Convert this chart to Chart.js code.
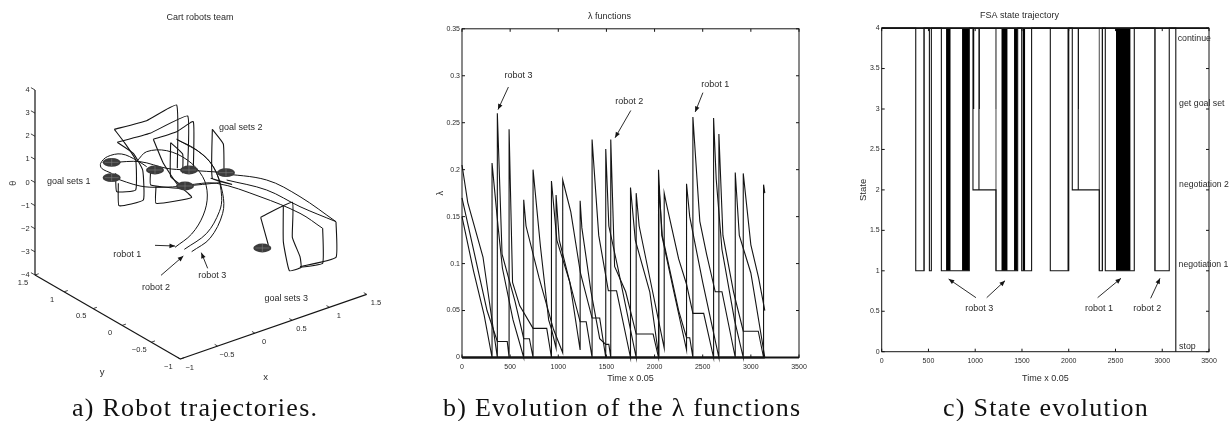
<!DOCTYPE html>
<html>
<head>
<meta charset="utf-8">
<title>Cart robots team</title>
<script src="https://cdn.jsdelivr.net/npm/chart.js@4"></script>
<style>
body { margin: 0; background: #fff; width: 1231px; height: 421px; overflow: hidden; position: relative; }
canvas { position: absolute; top: 0; }
.caption { position: absolute; top: 393px; font: 26px "Liberation Serif", serif; letter-spacing: 1.25px; color: #111; white-space: nowrap; line-height: 29px; }
</style>
</head>
<body>
<canvas id="robotChart" style="left:0" width="410" height="395"></canvas>
<canvas id="lambdaChart" style="left:420px" width="400" height="395"></canvas>
<canvas id="stateChart" style="left:830px" width="401" height="395"></canvas>
<div class="caption" style="left:72px">a) Robot trajectories.</div>
<div class="caption" style="left:443px">b) Evolution of the λ functions</div>
<div class="caption" style="left:943px">c) State evolution</div>
<script>
// ---- panel a: axis ticks (real units) ----
const xTicks3d = [-1, -0.5, 0, 0.5, 1, 1.5];
const yTicks3d = [-1, -0.5, 0, 0.5, 1, 1.5];
const thetaTicks3d = [-4, -3, -2, -1, 0, 1, 2, 3, 4];

// ---- panel a: paths, in projected plot units ----
const robot1Path = [[525,742],[575,702],[610,645],[622,585],[608,530],[562,480],[500,452],[440,455],[412,482]];
const robot2Path = [[553,748],[620,700],[658,635],[665,590],[650,520],[610,465],[530,418]];
const robot3Path = [[575,755],[630,715],[668,640],[668,580],[640,500],[590,450],[530,418]];
const arcPath1 = [[660,520],[800,540],[900,590],[1008,665]];
const arcPath2 = [[680,540],[800,570],[900,620],[1008,665]];
const arcPath3 = [[560,555],[650,550],[780,590],[900,640],[968,685]];
const linkPath1 = [[340,487],[420,485],[500,505],[560,510],[680,518]];
const linkPath2 = [[340,533],[420,558],[480,562],[555,558],[660,548]];
const loopPath = [[335,520],[305,505],[302,490],[322,470],[365,462],[412,482],[440,500]];
const goalWires = [
  [[343,388],[440,362],[530,315],[532,505]],
  [[343,388],[375,430],[407,480],[407,570],[350,575],[347,520]],
  [[352,427],[450,400],[563,348],[563,505]],
  [[352,427],[400,460],[428,510],[430,600],[357,617],[355,550]],
  [[460,418],[530,395],[580,365],[580,510]],
  [[460,418],[490,490],[530,550],[575,592],[468,610],[468,560]],
  [[512,428],[548,462],[548,520]],
  [[512,428],[512,530],[555,565],[452,555],[452,510]],
  [[637,388],[670,432],[672,520]],
  [[637,388],[637,535],[695,553],[632,535]],
  [[782,652],[877,607],[877,712],[900,770],[903,802],[868,812],[850,725],[850,615]],
  [[782,652],[805,735]],
  [[903,802],[968,790],[968,685]],
  [[1008,665],[1008,772],[900,800]]
];
const diskCentersX = [335, 335, 465, 567, 555, 678, 787];
const diskCentersY = [487, 533, 510, 510, 558, 518, 744];

// ---- panel b: lambda for each robot ----
const lambdaTicks = [0, 0.05, 0.1, 0.15, 0.2, 0.25, 0.3, 0.35];
const timeTicks = [0, 500, 1000, 1500, 2000, 2500, 3000, 3500];
const robotATimes = [0,120,230,312, 312,374,420,530,641, 641,665,800,950,1046, 1046,1130,1230,1351,1430,1493, 1493,1525,1620,1809, 1809,1840,1980,2100, 2100,2120,2250,2332,2398,2510,2613, 2613,2640,2700,2830,2921, 2921,3000,3080,3145];
const robotAValues = [0.15,0.092,0.045,0, 0.207,0.14,0.095,0.04,0, 0.168,0.14,0.085,0.03,0.005, 0.189,0.155,0.09,0.042,0.042,0, 0.222,0.14,0.095,0, 0.175,0.14,0.07,0.01, 0.175,0.165,0.105,0.078,0.047,0.047,0, 0.255,0.19,0.115,0.04,0, 0.196,0.12,0.085,0.05];
const robotBTimes = [0,60,218,367, 367,416,550,641,700,738, 738,815,900,930,977, 977,1010,1120,1227, 1227,1245,1340,1430,1493,1525,1545, 1545,1585,1700,1809,1985,2041, 2041,2075,2200,2332, 2332,2365,2500,2668, 2668,2710,2820,2921,3077,3132, 3132,3145];
const robotBValues = [0.205,0.165,0.107,0, 0.26,0.11,0.06,0.02,0.02,0, 0.2,0.118,0.04,0.03,0.01, 0.173,0.125,0.08,0.008, 0.167,0.138,0.07,0.02,0.014,0.014,0, 0.232,0.097,0.07,0.025,0.025,0, 0.2,0.13,0.07,0.008, 0.185,0.15,0.08,0, 0.238,0.13,0.07,0.028,0.028,0, 0.184,0.175];
const robotCTimes = [0,130,260,367,470,489, 489,525,600,738,880,929, 929,985,1120,1227,1290,1351, 1351,1420,1520,1605,1750, 1750,1800,1950,2045, 2045,2080,2250,2332,2365,2398, 2398,2470,2540,2630,2700,2838, 2838,2880,3000,3145];
const robotCValues = [0.17,0.11,0.05,0.017,0.017,0, 0.243,0.08,0.055,0.031,0.031,0, 0.188,0.125,0.08,0.038,0.038,0, 0.232,0.13,0.071,0.071,0, 0.181,0.125,0.07,0, 0.183,0.13,0.05,0.021,0.021,0, 0.256,0.145,0.11,0.07,0.07,0, 0.197,0.13,0.09,0];

// ---- panel c: FSA state ----
const stateTicks = [0, 0.5, 1, 1.5, 2, 2.5, 3, 3.5, 4];
const stateTimes = [0,364,364,453,453,510,510,531,531,638,638,937,937,976,976,1040,1040,1040,1222,1222,1454,1454,1497,1497,1603,1603,1803,1803,2000,2000,2038,2038,2102,2102,2102,2327,2327,2360,2360,2391,2391,2701,2701,2922,2922,3075,3075,3145,3145];
const stateValues = [4,4,1,1,4,4,1,1,4,4,1,1,4,4,2,2,4,2,2,1,1,4,4,1,1,4,4,1,1,4,4,2,2,4,2,2,1,1,4,4,1,1,4,4,1,1,4,4,0];
const chatterStart = [688, 859, 1279, 1415, 1505, 1985, 2505, 976, 1040, 1218, 2100];
const chatterEnd = [738, 937, 1347, 1454, 1535, 2005, 2662, 992, 1050, 1226, 2110];
const chatterLow = [1, 1, 1, 1, 1, 1, 1, 3, 3, 3, 3];
const greyEdgeTimes = [453, 1222, 2327, 2360, 2922];

const INK = '#141414';
const TEXT = '#2a2a2a';
const SANS = '"Liberation Sans", Arial, sans-serif';

Chart.defaults.animation = false;
Chart.defaults.responsive = false;
Chart.defaults.devicePixelRatio = 1;
Chart.defaults.font.family = SANS;
Chart.defaults.color = TEXT;

function toPoints(xs, ys) {
    return xs.map((x, i) => ({ x: x, y: ys[i] }));
}

function pathToPoints(path) {
    return path.map(p => ({ x: p[0], y: p[1] }));
}

function lineSet(points, width, tension, colour) {
    return {
        type: 'line',
        data: points,
        borderColor: colour || INK,
        borderWidth: width,
        pointRadius: 0,
        tension: tension || 0,
        fill: false,
        clip: false,
        spanGaps: false
    };
}

// Text, arrows, disks and the MATLAB style inward ticks, all placed through the chart scales
const panelPlugin = {
    id: 'panelNotes',
    afterDatasetsDraw(chart, args, opts) {
        const ctx = chart.ctx;
        const sx = chart.scales.x;
        const sy = chart.scales.y;
        ctx.save();

        (opts.disks || []).forEach(d => {
            const cx = sx.getPixelForValue(d[0]);
            const cy = sy.getPixelForValue(d[1]);
            ctx.fillStyle = '#3c3c3c';
            ctx.beginPath();
            ctx.ellipse(cx, cy, 9, 4.4, 0, 0, Math.PI * 2);
            ctx.fill();
            ctx.strokeStyle = '#8a8a8a';
            ctx.lineWidth = 0.5;
            ctx.beginPath();
            ctx.moveTo(cx - 7, cy);
            ctx.lineTo(cx + 7, cy);
            ctx.moveTo(cx, cy - 4);
            ctx.lineTo(cx, cy + 4);
            ctx.stroke();
        });

        if (opts.box) {
            const a = chart.chartArea;
            ctx.strokeStyle = INK;
            ctx.lineWidth = 1;
            ctx.strokeRect(a.left, a.top, a.right - a.left, a.bottom - a.top);
            ctx.lineWidth = 1.8;
            ctx.beginPath();
            ctx.moveTo(a.left, opts.box === 'top' ? a.top : a.bottom);
            ctx.lineTo(a.right, opts.box === 'top' ? a.top : a.bottom);
            ctx.stroke();
            ctx.lineWidth = 1;
            ctx.beginPath();
            sx.ticks.forEach(t => {
                const px = sx.getPixelForValue(t.value);
                ctx.moveTo(px, a.bottom);
                ctx.lineTo(px, a.bottom - 3);
                ctx.moveTo(px, a.top);
                ctx.lineTo(px, a.top + 3);
            });
            sy.ticks.forEach(t => {
                const py = sy.getPixelForValue(t.value);
                ctx.moveTo(a.left, py);
                ctx.lineTo(a.left + 3, py);
                ctx.moveTo(a.right, py);
                ctx.lineTo(a.right - 3, py);
            });
            ctx.stroke();
        }

        (opts.arrows || []).forEach(r => {
            const x0 = sx.getPixelForValue(r[0]);
            const y0 = sy.getPixelForValue(r[1]);
            const x1 = sx.getPixelForValue(r[2]);
            const y1 = sy.getPixelForValue(r[3]);
            const ang = Math.atan2(y1 - y0, x1 - x0);
            ctx.strokeStyle = INK;
            ctx.fillStyle = INK;
            ctx.lineWidth = 0.9;
            ctx.beginPath();
            ctx.moveTo(x0, y0);
            ctx.lineTo(x1, y1);
            ctx.stroke();
            ctx.beginPath();
            ctx.moveTo(x1, y1);
            ctx.lineTo(x1 - 6 * Math.cos(ang - 0.4), y1 - 6 * Math.sin(ang - 0.4));
            ctx.lineTo(x1 - 6 * Math.cos(ang + 0.4), y1 - 6 * Math.sin(ang + 0.4));
            ctx.closePath();
            ctx.fill();
        });

        ctx.fillStyle = TEXT;
        ctx.textBaseline = 'middle';
        (opts.labels || []).forEach(l => {
            ctx.font = (l[3] || 9) + 'px ' + SANS;
            ctx.textAlign = l[4] || 'center';
            const px = sx.getPixelForValue(l[1]);
            const py = sy.getPixelForValue(l[2]);
            if (l[5]) {
                ctx.save();
                ctx.translate(px, py);
                ctx.rotate(-Math.PI / 2);
                ctx.fillText(l[0], 0, 0);
                ctx.restore();
            } else {
                ctx.fillText(l[0], px, py);
            }
        });
        ctx.restore();
    }
};
Chart.register(panelPlugin);

// Plain 2D panel, the plot box is pinned with afterFit so it lands where the reference has it
function linearPanel(id, cfg) {
    return new Chart(document.getElementById(id), {
        type: 'line',
        data: { datasets: cfg.datasets },
        options: {
            parsing: false,
            layout: { padding: { left: 0, right: cfg.right, top: 0, bottom: 11 } },
            plugins: {
                legend: { display: false },
                tooltip: { enabled: false },
                title: {
                    display: true,
                    text: cfg.title,
                    color: TEXT,
                    font: { size: 9, weight: 'normal' },
                    padding: { top: cfg.top - 18, bottom: 7 }
                },
                panelNotes: { box: cfg.box, labels: cfg.labels, arrows: cfg.arrows }
            },
            scales: {
                x: {
                    type: 'linear',
                    min: 0,
                    max: 3500,
                    grid: { display: false, drawTicks: false },
                    border: { display: false },
                    afterBuildTicks: s => { s.ticks = timeTicks.map(v => ({ value: v })); },
                    afterFit: s => { s.height = cfg.xHeight; },
                    ticks: { font: { size: 7 }, color: TEXT, maxRotation: 0, autoSkip: false, padding: 5, callback: v => String(v) },
                    title: { display: true, text: 'Time x 0.05', color: TEXT, font: { size: 9 }, padding: 0 }
                },
                y: {
                    type: 'linear',
                    min: cfg.yTicks[0],
                    max: cfg.yTicks[cfg.yTicks.length - 1],
                    grid: { display: false, drawTicks: false },
                    border: { display: false },
                    afterBuildTicks: s => { s.ticks = cfg.yTicks.map(v => ({ value: v })); },
                    afterFit: s => { s.width = cfg.left; },
                    ticks: { font: { size: 7 }, color: TEXT, autoSkip: false, padding: 2, callback: v => String(v) },
                    title: { display: true, text: cfg.yTitle, color: TEXT, font: { size: cfg.yTitleSize }, padding: { top: cfg.yTitlePad, bottom: 0 } }
                }
            }
        }
    });
}

// ---- panel a ----
function project(x, y, theta) {
    return {
        x: 541 + (x + 1) / 2.5 * 559 - (y + 1) / 2.5 * 436,
        y: 1077 - (x + 1) / 2.5 * 194 - (y + 1) / 2.5 * 252 - (theta + 4) / 8 * 555
    };
}

function withGaps(segments) {
    const out = [];
    segments.forEach(seg => {
        out.push(seg[0], seg[1], { x: NaN, y: NaN });
    });
    return out;
}

function minusLabel(v) {
    return String(v).replace('-', '\u2212');
}

const axisLines = [
    [project(-1, 1.5, 4), project(-1, 1.5, -4)],
    [project(-1, 1.5, -4), project(-1, -1, -4)],
    [project(-1, -1, -4), project(1.5, -1, -4)]
];
const tickLines = [].concat(
    xTicks3d.map(v => [project(v, -1, -4), project(v, -0.95, -4)]),
    yTicks3d.map(v => [project(-1, v, -4), project(-0.95, v, -4)]),
    thetaTicks3d.map(v => [project(-1, 1.5, v), project(-1, 1.57, v)])
);
const robotLabels = [
    ['Cart robots team', 600, 52, 9],
    ['goal sets 2', 722, 382],
    ['goal sets 1', 206, 545],
    ['goal sets 3', 859, 895],
    ['robot 1', 382, 763],
    ['robot 2', 468, 862],
    ['robot 3', 637, 826],
    ['x', 797, 1132, 9.5],
    ['y', 306, 1118, 9.5],
    ['\u03b8', 42, 550, 9, 'center', true]
];
xTicks3d.forEach(v => {
    const p = project(v, -1, -4);
    robotLabels.push([minusLabel(v), p.x + 28, p.y + 26, 7.5]);
});
yTicks3d.forEach(v => {
    const p = project(-1, v, -4);
    robotLabels.push([minusLabel(v), p.x - 36, p.y + 23, 7.5]);
});
thetaTicks3d.forEach(v => {
    const p = project(-1, 1.5, v);
    robotLabels.push([minusLabel(v), p.x - 16, p.y, 7.5, 'right']);
});

new Chart(document.getElementById('robotChart'), {
    type: 'scatter',
    data: {
        datasets: [].concat(
            axisLines.map(seg => lineSet(seg, 1.2)),
            [lineSet(withGaps(tickLines), 0.8)],
            [robot1Path, robot2Path, robot3Path, arcPath1, arcPath2, arcPath3, linkPath1, linkPath2, loopPath]
                .map(p => Object.assign(lineSet(pathToPoints(p), 1, 0.35), { showLine: true })),
            goalWires.map(p => Object.assign(lineSet(pathToPoints(p), 1.1, 0.12), { showLine: true }))
        )
    },
    options: {
        parsing: false,
        layout: { padding: 0 },
        plugins: {
            legend: { display: false },
            tooltip: { enabled: false },
            panelNotes: {
                disks: diskCentersX.map((x, i) => [x, diskCentersY[i]]),
                labels: robotLabels,
                arrows: [[465, 736, 525, 738], [483, 826, 550, 768], [623, 805, 604, 758]]
            }
        },
        scales: {
            x: { type: 'linear', min: 0, max: 1230, display: false },
            y: { type: 'linear', min: 0, max: 1185, reverse: true, display: false }
        }
    }
});

// ---- panel b ----
linearPanel('lambdaChart', {
    title: '\u03bb functions',
    top: 29,
    left: 42,
    right: 21,
    xHeight: 26.5,
    box: 'bottom',
    yTicks: lambdaTicks,
    yTitle: '\u03bb',
    yTitleSize: 9,
    yTitlePad: 15,
    datasets: [
        lineSet(toPoints(robotATimes, robotAValues), 1.1),
        lineSet(toPoints(robotBTimes, robotBValues), 1.1),
        lineSet(toPoints(robotCTimes, robotCValues), 1.1),
        lineSet(toPoints([0, 3145], [0, 0]), 1.8)
    ],
    labels: [
        ['robot 3', 586, 0.30],
        ['robot 2', 1736, 0.273],
        ['robot 1', 2630, 0.291]
    ],
    arrows: [
        [482, 0.288, 374, 0.264],
        [1753, 0.263, 1590, 0.234],
        [2502, 0.282, 2422, 0.2615]
    ]
});

// ---- panel c ----
const chatterBands = chatterStart.map((s, i) => Object.assign(
    lineSet(toPoints([s, s, chatterEnd[i], chatterEnd[i]], [chatterLow[i], 4, 4, chatterLow[i]]), 0),
    { fill: { value: chatterLow[i] }, backgroundColor: '#000' }
));
const greyEdges = greyEdgeTimes.map(t => lineSet(toPoints([t, t], [1, 4]), 1.2, 0, '#666'));

linearPanel('stateChart', {
    title: 'FSA state trajectory',
    top: 28.3,
    left: 51.7,
    right: 22,
    xHeight: 32.3,
    box: 'top',
    yTicks: stateTicks,
    yTitle: 'State',
    yTitleSize: 9.5,
    yTitlePad: 28,
    datasets: [lineSet(toPoints(stateTimes, stateValues), 1.1)].concat(chatterBands, greyEdges),
    labels: [
        ['continue', 3165, 3.876, 8.8, 'left'],
        ['get goal set', 3180, 3.07, 8.8, 'left'],
        ['negotiation 2', 3180, 2.06, 8.7, 'left'],
        ['negotiation 1', 3175, 1.08, 8.7, 'left'],
        ['stop', 3180, 0.06, 8.8, 'left'],
        ['robot 3', 1044, 0.536],
        ['robot 1', 2324, 0.536],
        ['robot 2', 2840, 0.536]
    ],
    arrows: [
        [1008, 0.668, 716, 0.899],
        [1123, 0.668, 1319, 0.878],
        [2309, 0.668, 2559, 0.907],
        [2876, 0.66, 2976, 0.907]
    ]
});
</script>
</body>
</html>
